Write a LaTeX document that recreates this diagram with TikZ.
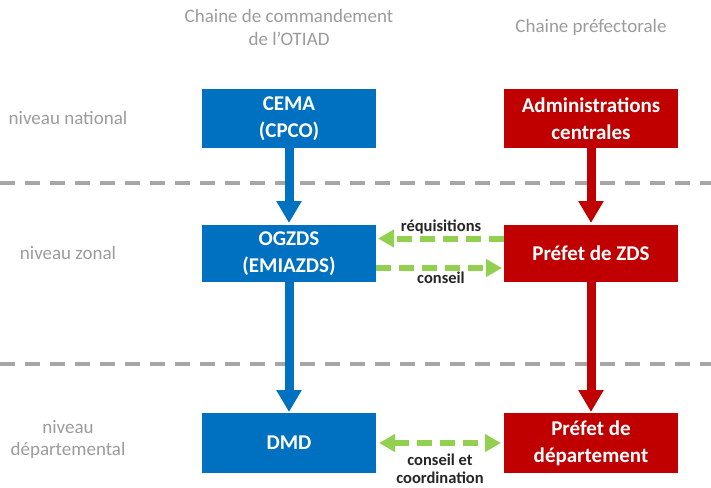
\documentclass[tikz,border=0pt]{standalone}
\usepackage{fontspec}
\setmainfont{Carlito}
\usetikzlibrary{arrows.meta,calc}
\definecolor{cblue}{HTML}{0070C0}
\definecolor{cred}{HTML}{C00000}
\definecolor{cgreen}{HTML}{92D050}
\definecolor{cgrayline}{HTML}{A6A6A6}
\definecolor{cgraytext}{HTML}{9C9C9C}
\definecolor{cdark}{HTML}{262626}
\tikzset{
  box/.style={minimum width=174pt, inner sep=0pt, outer sep=0pt, text=white,
    font=\bfseries\fontsize{21}{27}\selectfont, align=center},
  bluebox/.style={box, fill=cblue},
  redbox/.style={box, fill=cred},
  graylabel/.style={text=cgraytext, font=\fontsize{19}{23}\selectfont, align=center, inner sep=0pt},
  linklabel/.style={text=cdark, font=\bfseries\fontsize{16.5}{18.5}\selectfont, align=center, inner sep=0pt},
  levelline/.style={draw=cgrayline, line width=4pt, dash pattern=on 15pt off 10pt},
  bluearrow/.style={draw=cblue, line width=9pt, -{Triangle[width=24pt,length=22pt]}},
  redarrow/.style={draw=cred, line width=9pt, -{Triangle[width=24pt,length=22pt]}},
  greenarrow/.style={draw=cgreen, line width=6pt, dash pattern=on 15pt off 8pt},
  gtip/.tip={Triangle[width=17pt,length=16pt]}
}
\begin{document}
\begin{tikzpicture}[x=1pt,y=-1pt]
\useasboundingbox (0,0) rectangle (711,487);
\fill[white] (0,0) rectangle (711,487);
% level separators
\coordinate (l1a) at (0,183);
\coordinate (l1b) at (711,183);
\coordinate (l2a) at (0,364);
\coordinate (l2b) at (711,364);
\draw[levelline] (l1a) -- (l1b);
\draw[levelline] (l2a) -- (l2b);
% headers
\node[graylabel] (h1) at (289,27) {Chaine de commandement\\de l’OTIAD};
\node[graylabel] (h2) at (591,27) {Chaine préfectorale};
% level labels
\node[graylabel] (n1) at (68,118) {niveau national};
\node[graylabel] (n2) at (68,253) {niveau zonal};
\node[graylabel, font=\fontsize{19}{22}\selectfont] (n3) at (68,439) {niveau\\départemental};
% boxes
\node[bluebox, minimum height=59pt] (cema) at (289,118.5) {CEMA\\(CPCO)};
\node[redbox, minimum height=59pt] (admin) at (591,118.5) {Administrations\\centrales};
\node[bluebox, minimum height=57pt] (ogzds) at (289,253.5) {OGZDS\\(EMIAZDS)};
\node[redbox, minimum height=57pt] (pzds) at (591,253.5) {Préfet de ZDS};
\node[bluebox, minimum height=60pt] (dmd) at (289,443) {DMD};
\node[redbox, minimum height=60pt] (pdep) at (591,443) {Préfet de\\département};
% vertical arrows
\draw[bluearrow] (cema.south) -- ([yshift=2pt]ogzds.north);
\draw[bluearrow] (ogzds.south) -- ([yshift=1pt]dmd.north);
\draw[redarrow] (admin.south) -- ([yshift=2pt]pzds.north);
\draw[redarrow] (pzds.south) -- ([yshift=1pt]pdep.north);
% green links
\draw[greenarrow, -gtip] ([yshift=15pt]pzds.west) -- ([yshift=15pt,xshift=2pt]ogzds.east);
\draw[greenarrow, -gtip] ([yshift=-14.5pt]ogzds.east) -- ([yshift=-14.5pt,xshift=-2pt]pzds.west);
\draw[greenarrow, gtip-gtip] ([xshift=3pt]dmd.east) -- ([xshift=-3pt]pdep.west);
% link labels
\node[linklabel] (t1) at (441,227) {réquisitions};
\node[linklabel] (t2) at (441,278) {conseil};
\node[linklabel] (t3) at (440,469) {conseil et\\coordination};
\end{tikzpicture}
\end{document}
